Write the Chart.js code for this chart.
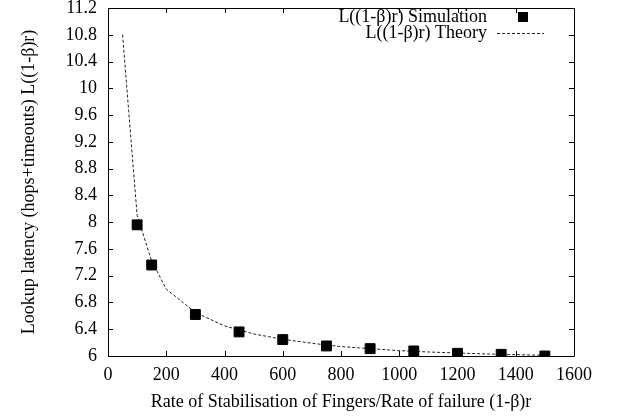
<!DOCTYPE html>
<html><head><meta charset="utf-8">
<script src="https://cdn.jsdelivr.net/npm/chart.js@4"></script>
<style>html,body{margin:0;padding:0;background:#fff}</style>
</head><body>
<canvas id="c" width="618" height="420"></canvas>
<script>
const simX = [100, 150, 300, 450, 600, 750, 900, 1050, 1200, 1350, 1500];
const simY = [7.96, 7.36, 6.62, 6.36, 6.245, 6.15, 6.11, 6.075, 6.04, 6.025, 6.0];
const theoryX = [50, 100, 150, 200, 300, 400, 500, 600, 700, 800, 900, 1000, 1100, 1200, 1300, 1400, 1500];
const theoryY = [10.8, 8.1, 7.42, 7.0, 6.65, 6.45, 6.33, 6.25, 6.19, 6.14, 6.11, 6.08, 6.06, 6.045, 6.03, 6.02, 6.01];
const xTicks = [0, 200, 400, 600, 800, 1000, 1200, 1400, 1600];
const yTicks = [6, 6.4, 6.8, 7.2, 7.6, 8, 8.4, 8.8, 9.2, 9.6, 10, 10.4, 10.8, 11.2];
const simLabel = 'L((1-\u03B2)r) Simulation';
const theoryLabel = 'L((1-\u03B2)r) Theory';
const xTitle = 'Rate of Stabilisation of Fingers/Rate of failure (1-\u03B2)r';
const yTitle = 'Lookup latency (hops+timeouts) L((1-\u03B2)r)';

const FONT = '"Liberation Serif", "Times New Roman", serif';
const FS = 18;
Chart.defaults.font.family = FONT;
Chart.defaults.font.size = FS;
Chart.defaults.color = '#000';

const fmt = v => String(Number(v.toFixed(1)));

const framePlugin = {
  id: 'frame',
  afterDraw(chart) {
    const ctx = chart.ctx;
    const a = chart.chartArea;
    const xs = chart.scales.x, ys = chart.scales.y;
    const tl = 5;
    ctx.save();
    ctx.strokeStyle = '#000';
    ctx.lineWidth = 1;
    ctx.setLineDash([]);
    ctx.beginPath();
    ctx.rect(Math.round(a.left) + 0.5, Math.round(a.top) + 0.5, Math.round(a.right - a.left), Math.round(a.bottom - a.top));
    ctx.stroke();
    ctx.beginPath();
    xTicks.forEach(v => {
      const px = Math.round(xs.getPixelForValue(v)) + 0.5;
      ctx.moveTo(px, a.bottom); ctx.lineTo(px, a.bottom - tl);
      ctx.moveTo(px, a.top); ctx.lineTo(px, a.top + tl);
    });
    yTicks.forEach(v => {
      const py = Math.round(ys.getPixelForValue(v)) + 0.5;
      ctx.moveTo(a.left, py); ctx.lineTo(a.left + tl, py);
      ctx.moveTo(a.right, py); ctx.lineTo(a.right - tl, py);
    });
    ctx.stroke();
    // legend
    ctx.font = FS + 'px ' + FONT;
    ctx.fillStyle = '#000';
    ctx.textAlign = 'right';
    ctx.textBaseline = 'middle';
    const tx = a.right - 87;
    const y1 = a.top + 9, y2 = a.top + 25;
    ctx.fillText(simLabel, tx, y1);
    ctx.fillText(theoryLabel, tx, y2);
    const sqx = a.right - 51;
    ctx.fillRect(sqx - 5, y1 - 5, 10, 10);
    ctx.beginPath();
    ctx.setLineDash([3, 2]);
    ctx.strokeStyle = '#222';
    ctx.moveTo(a.right - 77, Math.round(y2) + 0.5);
    ctx.lineTo(a.right - 30, Math.round(y2) + 0.5);
    ctx.stroke();
    ctx.restore();
  }
};

new Chart(document.getElementById('c'), {
  type: 'scatter',
  data: {
    datasets: [
      {
        label: theoryLabel,
        data: theoryX.map((x, i) => ({x, y: theoryY[i]})),
        showLine: true,
        borderColor: '#222',
        borderWidth: 1,
        borderDash: [3, 2],
        pointRadius: 0,
        fill: false,
        order: 2
      },
      {
        label: simLabel,
        data: simX.map((x, i) => ({x, y: simY[i]})),
        showLine: false,
        pointStyle: 'rect',
        pointRadius: 7,
        pointBorderWidth: 1,
        backgroundColor: '#000',
        borderColor: '#000',
        order: 1
      }
    ]
  },
  options: {
    responsive: false,
    animation: false,
    devicePixelRatio: 1,
    layout: {padding: {top: 8, right: 44, left: 0, bottom: 0}},
    plugins: {legend: {display: false}, tooltip: {enabled: false}},
    scales: {
      x: {
        type: 'linear',
        min: 0, max: 1600,
        afterBuildTicks: s => { s.ticks = xTicks.map(v => ({value: v})); },
        afterFit: s => { s.height = 64; s.paddingLeft = 0; s.paddingRight = 0; },
        grid: {display: false, drawTicks: false},
        border: {display: false},
        ticks: {padding: 8, maxRotation: 0, autoSkip: false, callback: v => fmt(v)},
        title: {display: true, text: xTitle, padding: {top: 0, bottom: 7}}
      },
      y: {
        type: 'linear',
        min: 6, max: 11.2,
        afterBuildTicks: s => { s.ticks = yTicks.map(v => ({value: v})); },
        afterFit: s => { s.width = 108; s.paddingTop = 0; s.paddingBottom = 0; },
        grid: {display: false, drawTicks: false},
        border: {display: false},
        ticks: {padding: 11, autoSkip: false, callback: v => fmt(v)},
        title: {display: true, text: yTitle, padding: {top: 18, bottom: 0}}
      }
    }
  },
  plugins: [framePlugin]
});
</script>
</body></html>
